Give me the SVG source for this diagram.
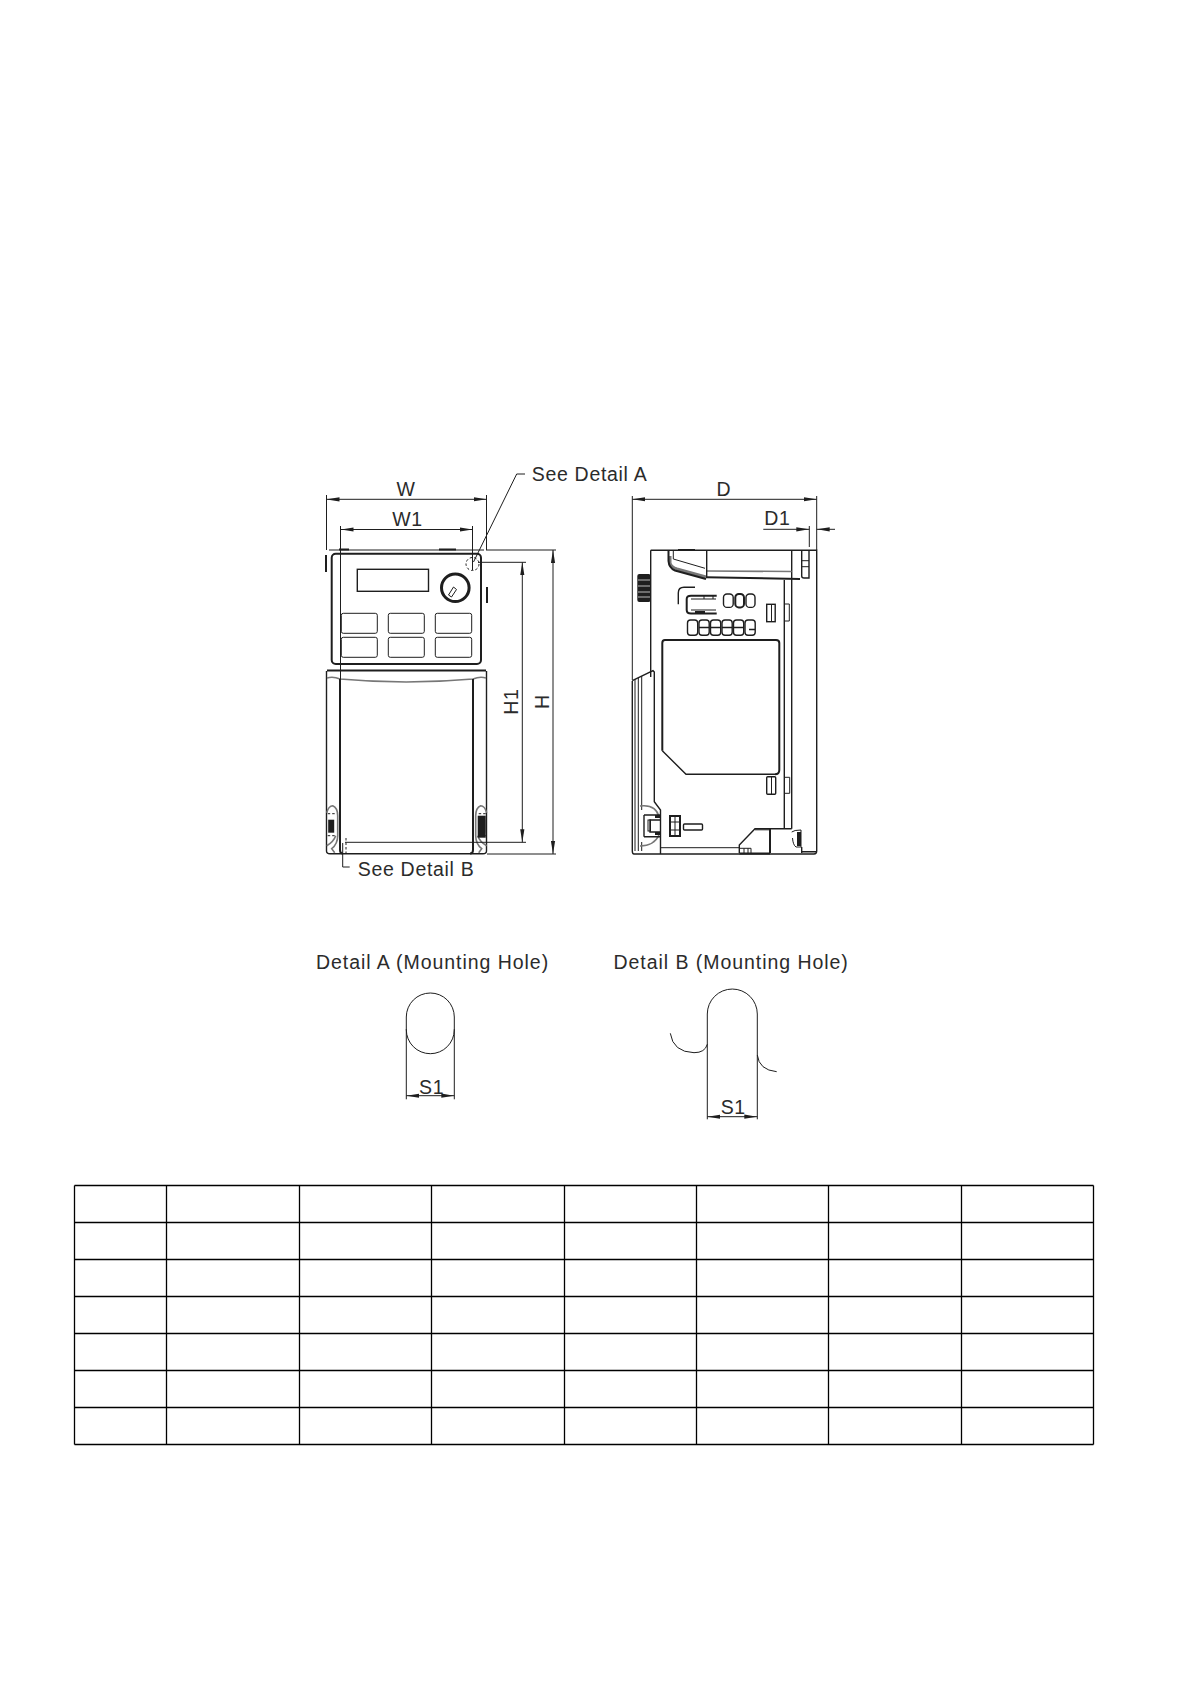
<svg xmlns="http://www.w3.org/2000/svg" width="1191" height="1684" viewBox="0 0 1191 1684">
<style>
.t{font-family:"Liberation Sans",Arial,sans-serif;font-size:19.5px;fill:#2b2b2b;letter-spacing:.7px}
.w{letter-spacing:.95px}
.m{text-anchor:middle}
.l{fill:none;stroke:#1e1e1e;stroke-width:1}
.h{fill:none;stroke:#1e1e1e;stroke-width:1.4}
.b{fill:none;stroke:#1e1e1e;stroke-width:2}
.y{fill:none;stroke:#777;stroke-width:1.6}
.k{fill:#1e1e1e;stroke:none}
.d{fill:none;stroke:#1e1e1e;stroke-width:1;stroke-dasharray:2.5 2}
.a{fill:none;stroke:#1e1e1e;stroke-width:1;marker-start:url(#arr);marker-end:url(#arr)}
.ae{fill:none;stroke:#1e1e1e;stroke-width:1;marker-end:url(#arr)}
.g{fill:none;stroke:#000;stroke-width:1.3}
</style>
<defs>
<marker id="arr" markerUnits="userSpaceOnUse" markerWidth="13" markerHeight="5" viewBox="0 0 13 5" refX="13" refY="2.5" orient="auto-start-reverse"><path d="M0,0.4 L13,2.5 L0,4.600 z" fill="#1e1e1e"/></marker>
<g id="front-clip"><path class="y" d="M0,7 Q2,0 6,0 Q11,2 11,10 V30 Q11,38 5,43 L8,47"/><path class="y" d="M0,40 Q7,36 9,30"/><path class="d" d="M1,8 H9 M1,30 H9"/><rect class="k" x="1.500" y="14" width="6" height="13"/></g>
</defs>
<rect width="1191" height="1684" fill="#fff"/>

<g id="front-view">
<path class="l" d="M329,550 H484"/>
<path class="h" d="M326.500,671 V851 Q326.500,853.700 330,853.700 H483 Q486.500,853.700 486.500,851 V671"/>
<path class="b" d="M326,555 V572 M339,549.500 H349 M439,549.500 H456 M487,587 V603"/>
<rect id="keypad" class="b" x="331.700" y="553.700" width="149.300" height="110.300" rx="4"/>
<rect id="display" class="h" x="357.300" y="569.300" width="71.200" height="22"/>
<g id="knob"><circle class="b" cx="455.300" cy="587.700" r="13.800" style="stroke-width:3"/><path class="l" d="M448.500,595 L453.500,587 L456.500,589.500 L451.500,597 Z"/></g>
<g id="buttons">
<rect class="l" x="341.300" y="613.300" width="36" height="20" rx="2"/><rect class="l" x="388.300" y="613.300" width="36" height="20" rx="2"/><rect class="l" x="435.300" y="613.300" width="36.400" height="20" rx="2"/>
<rect class="l" x="341.300" y="637.300" width="36" height="20" rx="2"/><rect class="l" x="388.300" y="637.300" width="36" height="20" rx="2"/><rect class="l" x="435.300" y="637.300" width="36.400" height="20" rx="2"/>
</g>
<path class="b" d="M327,670.500 H486"/>
<path class="y" d="M327,678 Q333,676 340,679 Q406,685 473,679 Q480,676 486,678"/>
<path class="b" d="M340,679 V850 Q340,853.500 343,853.500 M473,679 V850 Q473,853.500 470,853.500"/>
<use href="#front-clip" x="326.700" y="805.700"/>
<g transform="translate(486.700,805.700) scale(-1,1)"><use href="#front-clip"/><rect class="k" x="1" y="10" width="8" height="22"/></g>
<circle class="d" cx="472.500" cy="564" r="6.500"/>
<path class="d" d="M346,838 V853"/>
</g>

<g id="side-view">
<path class="h" d="M650.700,550.300 H816.700 V851 Q816.700,854 814,854 H634 Q632.300,854 632.300,851 V681"/>
<path class="h" d="M650.700,550.300 V677"/>
<path class="k" d="M678,549 H695 V551 H678 Z"/>
<path class="h" d="M791.700,550.300 V828.700 M784.300,580 V828.700"/>
<g id="cover"><path class="y" d="M670,556 V563 Q671,567 677,569 L706,577" style="stroke-width:3"/><path class="b" d="M668.500,550.300 V561 Q669,568 675,570.500 L706,579"/><path class="l" d="M673.300,551 V559 L705,568.300"/><path class="y" d="M707,571 L791.700,571.500"/><path class="b" d="M706,577.300 L800,579"/><path class="h" d="M706.700,550.300 V577"/></g>
<g id="side-clip"><path class="h" d="M801.700,550.300 V576 Q801.700,578 804,578 H809 V550.300"/><path class="l" d="M801.700,560.700 H809 M801.700,566.700 H809"/></g>
<g id="ribbed"><rect class="k" x="637.300" y="574" width="13.400" height="28" rx="2"/><path d="M638,580 H650 M638,586 H650 M638,592 H650 M638,597 H650" stroke="#fff" stroke-width=".7"/></g>
<path class="h" d="M678.300,604.300 V593 Q678.300,587.300 684,587.300 H695"/>
<g id="connector"><path class="b" d="M716.700,595.700 H691 Q686.700,595.700 686.700,599 V610 Q686.700,613.500 691,613.500 H716.700"/><path class="l" d="M691,599 H716 M691,610 H716 M704,596 V599 M713,596 V599"/><rect class="k" x="695" y="611" width="10" height="2.500"/></g>
<g id="slots-3">
<rect class="h" x="723.500" y="594" width="9.700" height="13.400" rx="3.500"/><rect class="b" x="735.300" y="594" width="8.700" height="13.400" rx="3.500"/><rect class="h" x="746" y="594" width="9" height="13.400" rx="3.500"/>
</g>
<g id="slots-6">
<rect class="h" x="687.500" y="620" width="10.200" height="15.300" rx="3"/><rect class="h" x="699" y="620" width="10.200" height="15.300" rx="3"/><rect class="h" x="710.500" y="620" width="10.200" height="15.300" rx="3"/><rect class="h" x="722" y="620" width="10.200" height="15.300" rx="3"/><rect class="h" x="733.500" y="620" width="10.200" height="15.300" rx="3"/><rect class="h" x="745" y="620" width="10.200" height="15.300" rx="3"/>
<path class="h" d="M699,627.500 H709.200 M710.500,627.500 H720.700 M722,627.500 H732.200 M733.500,627.500 H743.700 M749,629.500 H755"/></g>
<rect class="h" x="766.700" y="604.300" width="8.500" height="17.400"/><path class="l" d="M771.500,604.300 V621.700"/>
<path class="l" d="M784.300,604 H789.300 V621 H784.300"/>
<path class="b" d="M662.300,750.700 V643 Q662.300,640 665,640 H776 Q779.300,640 779.300,643 V770 Q779.300,774.300 775,774.300"/>
<path class="h" d="M662.300,750.700 L686,774.300 H775"/>
<rect class="h" x="766.700" y="776.700" width="9" height="17.600" rx="1"/><path class="l" d="M771.500,777 V794"/>
<path class="l" d="M784.300,777.300 H789.700 V793.300 H784.300"/>
<g id="side-left"><path class="h" d="M632.300,680.700 L653,670.700 L654.300,672 V801.700 L660.500,810 V854"/>
<path class="l" d="M635,679 V851 M638.300,678 V851 M641.700,676 V810 M641.700,842 V851"/>
<path class="y" d="M640,806 Q656,804 659,817 M659,835 Q654,846 640,846"/>
<path class="h" d="M644,815 H660 M644,836.700 H660 M644,815 V836.700 M660,820 H650 V832 H660"/><rect class="l" x="648" y="820" width="2.500" height="11"/><rect class="k" x="655" y="815" width="5" height="3"/><rect class="k" x="655" y="832" width="5" height="3"/></g>
<rect class="b" x="670" y="816" width="10" height="20"/><path class="l" d="M670,822 H680 M670,830 H680 M675,816 V836"/>
<rect class="h" x="683.500" y="824" width="19" height="6" rx="1"/>
<path class="l" d="M660,847.700 H740"/>
<g id="foot"><path class="h" d="M739.300,853 V845 L755,828.700 H791.700"/><path class="b" d="M770,829 V853 M739.500,853.500 H770"/><path class="l" d="M740,848.300 H751 V853 M744,848.300 V853 M748,848.300 V853 M755,829.800 H770"/>
<path class="l" d="M791.700,832 Q794,830 801,830 V847 H796 Q793,845 792.500,838"/><path class="k" d="M797,832 H801 V846 H797 Z"/>
<path class="h" d="M801.700,847 V853 M801.700,851.700 H816.700"/></g>
</g>

<g id="detail-a">
<path class="l" d="M406.300,1017 A24,24 0 0 1 454.300,1017 V1029.700 A24,24 0 0 1 406.300,1029.700 Z"/>
</g>
<g id="detail-b">
<path class="l" d="M707.300,1014 A25,25 0 0 1 757.300,1014 V1055 Q759,1070 776.700,1071.700"/>
<path class="l" d="M707.300,1014 V1044.300 Q705,1052.700 694,1052.700 Q673,1052 670.300,1033.300"/>
</g>

<g id="connectors">
<path class="l" d="M326.500,495 V550 M486.500,495 V550 M340.500,526 V680 M472.500,526 V570"/>
<path class="a" d="M326.500,499.300 H486.500"/>
<path class="a" d="M340.500,529.500 H472.500"/>
<path class="l" d="M478,562.300 H526 M345,842.300 H526 M486,550 H556 M487,854 H556"/>
<path class="a" d="M522.300,562.300 V842.300"/>
<path class="a" d="M553,550 V854"/>
<path class="l" d="M473.500,562 L516.700,474 H525"/>
<path class="l" d="M342.700,843 V867 H349.700"/>
<path class="l" d="M632.300,496 V680 M816.700,496 V550 M809.300,526 V547"/>
<path class="a" d="M632.300,499.300 H816.700"/>
<path class="ae" d="M763.300,529.300 H809.300"/>
<path class="ae" d="M835,529.300 H816.700"/>
<path class="l" d="M406.300,1029 V1099.300 M454.300,1029 V1099.300 M707.300,1044 V1119.300 M757.300,1055 V1119.300"/>
<path class="a" d="M406.300,1095.700 H454.300"/>
<path class="a" d="M707.300,1116.700 H757.300"/>
</g>

<g id="labels">
<text class="t" x="531.700" y="480.700">See Detail A</text>
<text class="t m" x="406" y="496">W</text>
<text class="t m" x="407.500" y="526">W1</text>
<text class="t m" x="724" y="496">D</text>
<text class="t m" x="777.500" y="525.300">D1</text>
<text class="t m" transform="translate(518,701.700) rotate(-90)">H1</text>
<text class="t m" transform="translate(549,701.700) rotate(-90)">H</text>
<text class="t" x="357.700" y="875.700">See Detail B</text>
<text class="t w" x="316" y="969">Detail A (Mounting Hole)</text>
<text class="t w" x="613.500" y="969">Detail B (Mounting Hole)</text>
<text class="t m" x="431.700" y="1093.700">S1</text>
<text class="t m" x="733.300" y="1114.300">S1</text>
</g>

<g id="table">
<path class="g" d="M74.500,1185.500 H1093.500 M74.500,1222.500 H1093.500 M74.500,1259.500 H1093.500 M74.500,1296.500 H1093.500 M74.500,1333.500 H1093.500 M74.500,1370.500 H1093.500 M74.500,1407.500 H1093.500 M74.500,1444.500 H1093.500"/>
<path class="g" d="M74.500,1185.500 V1444.500 M166.500,1185.500 V1444.500 M299.500,1185.500 V1444.500 M431.500,1185.500 V1444.500 M564.500,1185.500 V1444.500 M696.500,1185.500 V1444.500 M828.500,1185.500 V1444.500 M961.500,1185.500 V1444.500 M1093.500,1185.500 V1444.500"/>
</g>
</svg>
